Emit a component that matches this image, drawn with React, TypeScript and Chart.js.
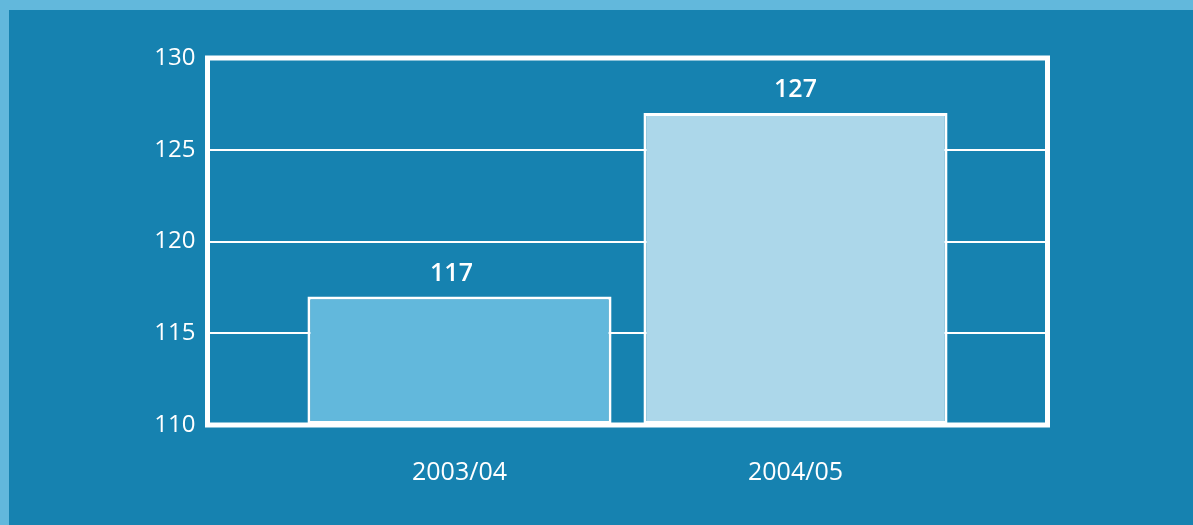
import React, { useEffect, useRef } from "react";
import { Chart, registerables } from "chart.js";

Chart.register(...registerables);

const categories = ["2003/04", "2004/05"];
const positions = [1, 2];
const values = [117, 127];
const barColors = ["#62b8dc", "#acd7ea"];
const yTicks = [110, 115, 120, 125, 130];

const FONT = "'Open Sans', 'DejaVu Sans', sans-serif";

const framePlugin = {
  id: "frame",
  afterDatasetsDraw(chart: any) {
    const { ctx, chartArea } = chart;
    ctx.save();
    ctx.strokeStyle = "#ffffff";
    ctx.lineWidth = 5;
    ctx.strokeRect(chartArea.left, chartArea.top, chartArea.right - chartArea.left, chartArea.bottom - chartArea.top);
    ctx.restore();
  },
};

const valueLabelPlugin = {
  id: "valueLabels",
  afterDatasetsDraw(chart: any) {
    const { ctx } = chart;
    const meta = chart.getDatasetMeta(0);
    ctx.save();
    ctx.fillStyle = "#ffffff";
    ctx.font = `600 25px ${FONT}`;
    ctx.textAlign = "center";
    ctx.textBaseline = "middle";
    meta.data.forEach((el: any, i: number) => {
      ctx.fillText(String(values[i]), el.x - (i === 0 ? 8 : 0), el.y - 23);
    });
    ctx.restore();
  },
};

export default function App() {
  const ref = useRef<HTMLCanvasElement | null>(null);
  useEffect(() => {
    if (!ref.current) return;
    const chart = new Chart(ref.current, {
      type: "bar",
      data: {
        datasets: [
          {
            data: positions.map((x, i) => ({ x, y: values[i] })),
            backgroundColor: barColors,
            borderColor: "#ffffff",
            borderWidth: 3,
            borderSkipped: false,
            barPercentage: 0.905,
            categoryPercentage: 1,
            base: 110,
          } as any,
        ],
      },
      options: {
        animation: false,
        responsive: false,
        maintainAspectRatio: false,
        layout: { padding: { left: 0, right: 145.5, top: 48, bottom: 0 } },
        plugins: { legend: { display: false }, tooltip: { enabled: false } },
        scales: {
          x: {
            type: "linear",
            offset: false,
            min: 0.25,
            max: 2.75,
            afterBuildTicks: (axis: any) => {
              axis.ticks = positions.map((v) => ({ value: v }));
            },
            afterFit: (axis: any) => {
              axis.height = 100;
            },
            grid: { display: false, drawTicks: false, offset: false },
            border: { display: false },
            ticks: {
              color: "#ffffff",
              font: { family: FONT, size: 25 },
              padding: 33,
              maxRotation: 0,
              callback: (v: any) => categories[positions.indexOf(v)] ?? "",
            },
          },
          y: {
            min: 110,
            max: 130,
            afterBuildTicks: (axis: any) => {
              axis.ticks = yTicks.map((v) => ({ value: v }));
            },
            afterFit: (axis: any) => {
              axis.width = 198.5;
            },
            grid: { color: "#ffffff", lineWidth: 2, drawTicks: false },
            border: { display: false },
            ticks: {
              color: "#ffffff",
              font: { family: FONT, size: 24 },
              padding: 12,
            },
          },
        },
      },
      plugins: [framePlugin, valueLabelPlugin],
    });
    return () => chart.destroy();
  }, []);

  return (
    <div style={{ position: "fixed", left: 0, top: 0, width: 1193, height: 525, background: "#62b8dc" }}>
      <div style={{ position: "absolute", left: 9, top: 10, width: 1184, height: 515, background: "#1682b0" }}>
        <canvas ref={ref} width={1184} height={515} style={{ display: "block", width: 1184, height: 515 }} />
      </div>
    </div>
  );
}
